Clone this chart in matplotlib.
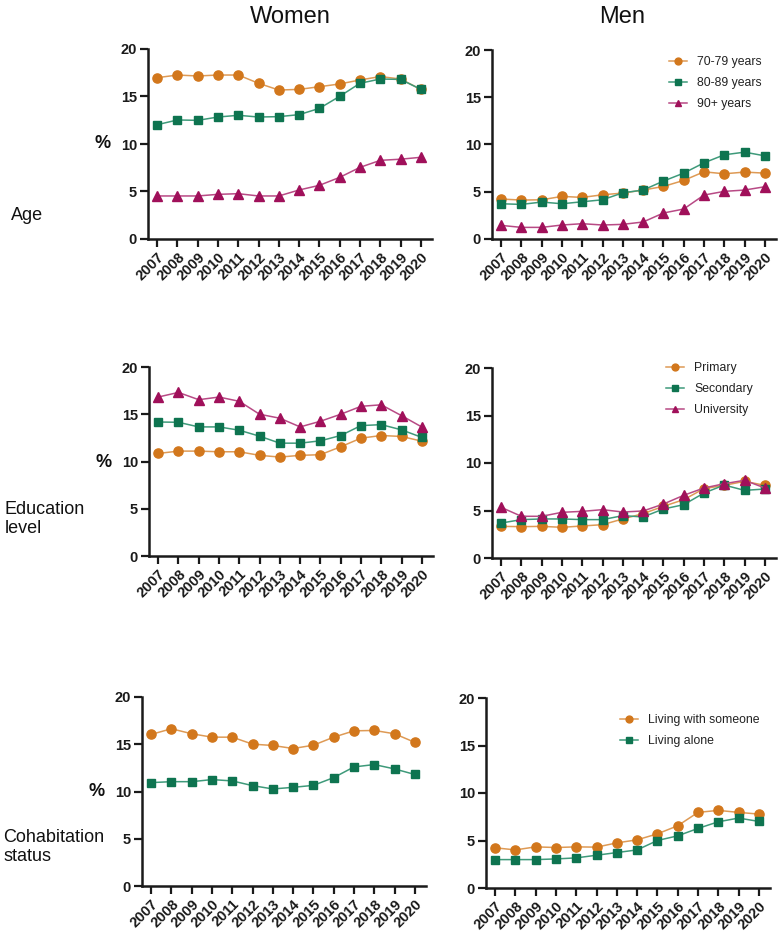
import matplotlib
matplotlib.use("Agg")
import matplotlib.pyplot as plt

years = list(range(2007, 2021))
year_labels = [str(y) for y in years]
yticks = [0, 5, 10, 15, 20]

# Age
women_70_79 = [16.98, 17.26, 17.16, 17.26, 17.26, 16.39, 15.68, 15.75, 16.03, 16.32, 16.74, 17.1, 16.84, 15.75]
women_80_89 = [12.03, 12.53, 12.49, 12.84, 13.02, 12.84, 12.88, 13.09, 13.75, 15.02, 16.39, 16.84, 16.8, 15.75]
women_90p = [4.53, 4.53, 4.53, 4.70, 4.77, 4.53, 4.53, 5.16, 5.65, 6.49, 7.54, 8.28, 8.4, 8.6]
men_70_79 = [4.23, 4.12, 4.15, 4.51, 4.40, 4.68, 4.86, 5.18, 5.56, 6.20, 7.11, 6.90, 7.08, 6.97]
men_80_89 = [3.73, 3.66, 3.91, 3.73, 3.94, 4.15, 4.89, 5.18, 6.13, 6.97, 8.06, 8.91, 9.19, 8.80]
men_90p = [1.44, 1.23, 1.23, 1.48, 1.62, 1.48, 1.55, 1.80, 2.75, 3.17, 4.65, 5.04, 5.18, 5.53]
# Education
women_primary = [10.85, 11.1, 11.1, 11.03, 11.03, 10.65, 10.47, 10.65, 10.72, 11.56, 12.47, 12.75, 12.65, 12.15]
women_secondary = [14.18, 14.15, 13.66, 13.66, 13.31, 12.68, 11.94, 11.94, 12.19, 12.75, 13.8, 13.9, 13.35, 12.55]
women_university = [16.82, 17.31, 16.54, 16.82, 16.37, 15.0, 14.58, 13.66, 14.26, 15.0, 15.84, 16.0, 14.85, 13.65]
men_primary = [3.33, 3.30, 3.33, 3.23, 3.37, 3.51, 4.11, 4.67, 5.44, 6.14, 7.30, 7.65, 8.07, 7.65]
men_secondary = [3.68, 4.04, 4.11, 4.11, 4.04, 4.04, 4.46, 4.32, 5.16, 5.61, 6.84, 7.68, 7.12, 7.26]
men_university = [5.33, 4.39, 4.39, 4.81, 4.91, 5.09, 4.84, 4.95, 5.68, 6.60, 7.37, 7.82, 8.18, 7.37]
# Cohabitation
women_with = [16.04, 16.64, 16.11, 15.75, 15.75, 15.01, 14.87, 14.55, 14.90, 15.75, 16.42, 16.46, 16.11, 15.2]
women_alone = [10.94, 11.04, 11.04, 11.26, 11.12, 10.62, 10.27, 10.44, 10.65, 11.47, 12.60, 12.85, 12.39, 11.8]
men_with = [4.23, 4.01, 4.33, 4.26, 4.33, 4.30, 4.75, 5.07, 5.70, 6.55, 7.96, 8.17, 7.96, 7.78]
men_alone = [2.99, 2.99, 2.99, 3.06, 3.17, 3.45, 3.73, 4.01, 5.00, 5.49, 6.27, 6.97, 7.36, 7.01]

age_labels = ["70-79 years", "80-89 years", "90+ years"]
edu_labels = ["Primary", "Secondary", "University"]
cohab_labels = ["Living with someone", "Living alone"]
col_titles = ["Women", "Men"]
row_titles = ["Age", "Education\nlevel", "Cohabitation\nstatus"]

ORANGE = "#D2771C"
GREEN = "#0E7450"
MAGENTA = "#A0105A"
LORANGE = "#DE9A55"
LGREEN = "#3E9A7A"
LMAGENTA = "#B84A85"
styles = [
    dict(color=LORANGE, marker="o", mfc=ORANGE, mec=ORANGE, ms=6.6),
    dict(color=LGREEN, marker="s", mfc=GREEN, mec=GREEN, ms=6.0),
    dict(color=LMAGENTA, marker="^", mfc=MAGENTA, mec=MAGENTA, ms=6.6),
]

W, H = 779, 934
fig = plt.figure(figsize=(W / 100, H / 100), dpi=100)
plt.rcParams['font.family'] = ['Liberation Sans', 'DejaVu Sans']

def add_ax(left, top, bottom, width=284):
    return fig.add_axes([left / W, 1 - bottom / H, width / W, (bottom - top) / H])

panels = [
    (add_ax(148, 49, 239), [women_70_79, women_80_89, women_90p], None),
    (add_ax(492, 50, 239), [men_70_79, men_80_89, men_90p], age_labels),
    (add_ax(149, 367, 556), [women_primary, women_secondary, women_university], None),
    (add_ax(492, 368, 558), [men_primary, men_secondary, men_university], edu_labels),
    (add_ax(142, 697, 886), [women_with, women_alone], None),
    (add_ax(486, 698, 888), [men_with, men_alone], cohab_labels),
]

legend_pos = {1: (669, 56), 3: (666, 362), 5: (620, 714)}

for i, (ax, series, labels) in enumerate(panels):
    for j, s in enumerate(series):
        ax.plot(years, s, lw=1.1, **styles[j], label=(labels[j] if labels else None))
    ax.set_xlim(2006.55, 2020.55)
    ax.set_ylim(0, 20)
    ax.set_yticks(yticks)
    ax.set_xticks(years)
    ax.set_xticklabels(year_labels, rotation=45, ha="right", rotation_mode="anchor")
    for sp in ["top", "right"]:
        ax.spines[sp].set_visible(False)
    for sp in ["left", "bottom"]:
        ax.spines[sp].set_linewidth(1.8)
        ax.spines[sp].set_color("#1a1a1a")
    ax.tick_params(axis="both", direction="out", length=6, width=1.6, color="#1a1a1a",
                   labelsize=10.5, pad=2, labelcolor="#1a1a1a")
    for lab in ax.get_xticklabels() + ax.get_yticklabels():
        lab.set_fontweight("bold")
    ax.patch.set_alpha(0)
    if labels:
        lx, ly = legend_pos[i]
        ax.legend(loc="upper left", bbox_to_anchor=(lx / W, 1 - ly / H),
                  bbox_transform=fig.transFigure, frameon=False, fontsize=8.8,
                  markerscale=0.75, handlelength=1.5, handletextpad=0.8,
                  labelspacing=0.75, borderaxespad=0, borderpad=0,
                  labelcolor="#222222")

fig.text(290 / W, 1 - 17 / H, col_titles[0], fontsize=17, ha="center", va="center", color="#111111")
fig.text(622 / W, 1 - 17 / H, col_titles[1], fontsize=17, ha="center", va="center", color="#111111")

row_y = [(215, 143), (519, 463), (847, 791)]
pct_x = [103, 104, 97]
row_x = [11, 5, 3]
for r in range(3):
    fig.text(row_x[r] / W, 1 - row_y[r][0] / H, row_titles[r], fontsize=13, ha="left", va="center",
             color="#111111", linespacing=1.1)
    fig.text(pct_x[r] / W, 1 - row_y[r][1] / H, "%", fontsize=13, fontweight="bold",
             ha="center", va="center", color="#111111")

fig.savefig("out.png", dpi=100)
